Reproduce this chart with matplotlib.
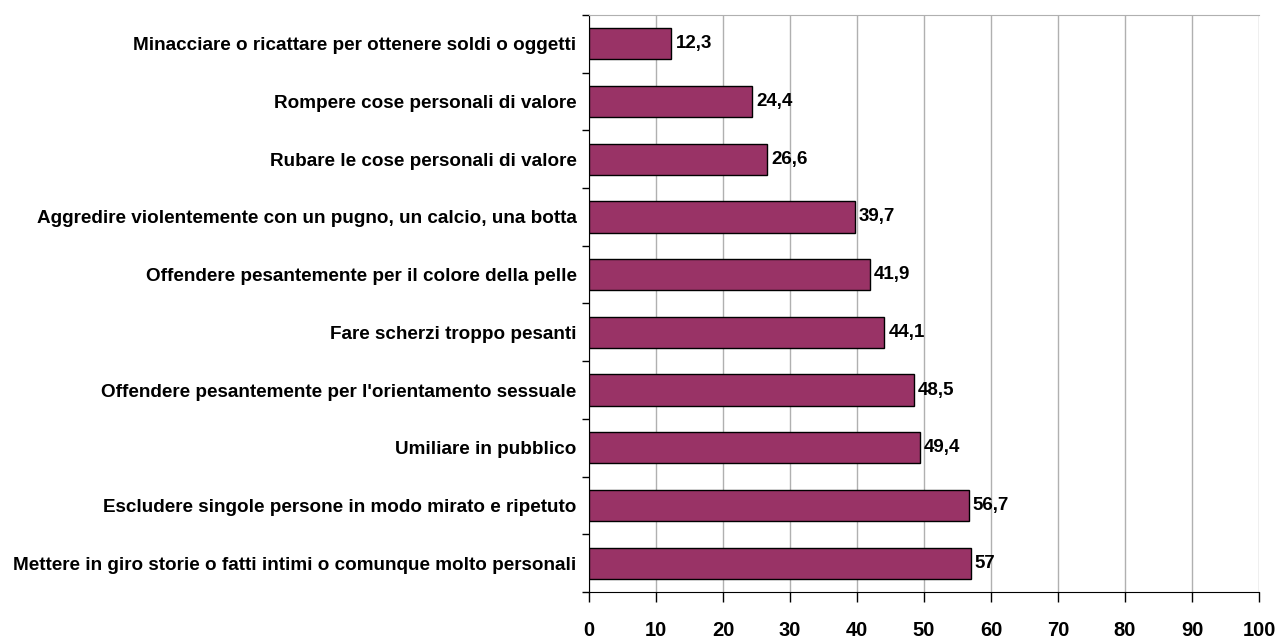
import matplotlib
matplotlib.use("Agg")
import matplotlib.pyplot as plt
import numpy as np

categories = [
    "Minacciare o ricattare per ottenere soldi o oggetti",
    "Rompere cose personali di valore",
    "Rubare le cose personali di valore",
    "Aggredire violentemente con un pugno, un calcio, una botta",
    "Offendere pesantemente per il colore della pelle",
    "Fare scherzi troppo pesanti",
    "Offendere pesantemente per l'orientamento sessuale",
    "Umiliare in pubblico",
    "Escludere singole persone in modo mirato e ripetuto",
    "Mettere in giro storie o fatti intimi o comunque molto personali",
]
values = [12.3, 24.4, 26.6, 39.7, 41.9, 44.1, 48.5, 49.4, 56.7, 57]
value_labels = ["12,3", "24,4", "26,6", "39,7", "41,9", "44,1", "48,5", "49,4", "56,7", "57"]
xticks = [0, 10, 20, 30, 40, 50, 60, 70, 80, 90, 100]

plt.rcParams['font.family'] = ['Liberation Sans Narrow', 'Liberation Sans', 'DejaVu Sans']

fig = plt.figure(figsize=(12.87, 6.41), dpi=100)
ax = fig.add_axes([589/1287, 1-592/641, (1259-589)/1287, (592-15)/641])

n = len(categories)
y = np.arange(n)
ax.barh(y, values, height=0.54, color="#993366", edgecolor="black", linewidth=1.0, zorder=3)
for yi, v, lab in zip(y, values, value_labels):
    ax.text(v + 0.6, yi, lab, va="center", ha="left", fontsize=13.5, fontweight="bold", zorder=4)

ax.set_xlim(0, 100)
ax.set_ylim(n - 0.5, -0.5)
ax.set_xticks(xticks)
ax.set_xticklabels([str(t) for t in xticks], fontsize=14.5, fontweight="bold")
ax.set_yticks(y)
ax.set_yticklabels(categories, fontsize=13.6, fontweight="bold")
ax.set_yticks(np.arange(n + 1) - 0.5, minor=True)
ax.tick_params(axis="y", which="major", length=0, pad=9)
ax.tick_params(axis="y", which="minor", length=5, width=1, direction="out")
ax.tick_params(axis="x", which="major", length=7, width=1, direction="out", pad=14)
ax.grid(axis="x", color="#b0b0b0", linewidth=1.0, zorder=0)
ax.set_axisbelow(True)
ax.spines["top"].set_color("#b0b0b0")
ax.spines["right"].set_visible(False)
ax.spines["left"].set_color("black")
ax.spines["bottom"].set_color("black")

fig.savefig("out.png", dpi=100)
